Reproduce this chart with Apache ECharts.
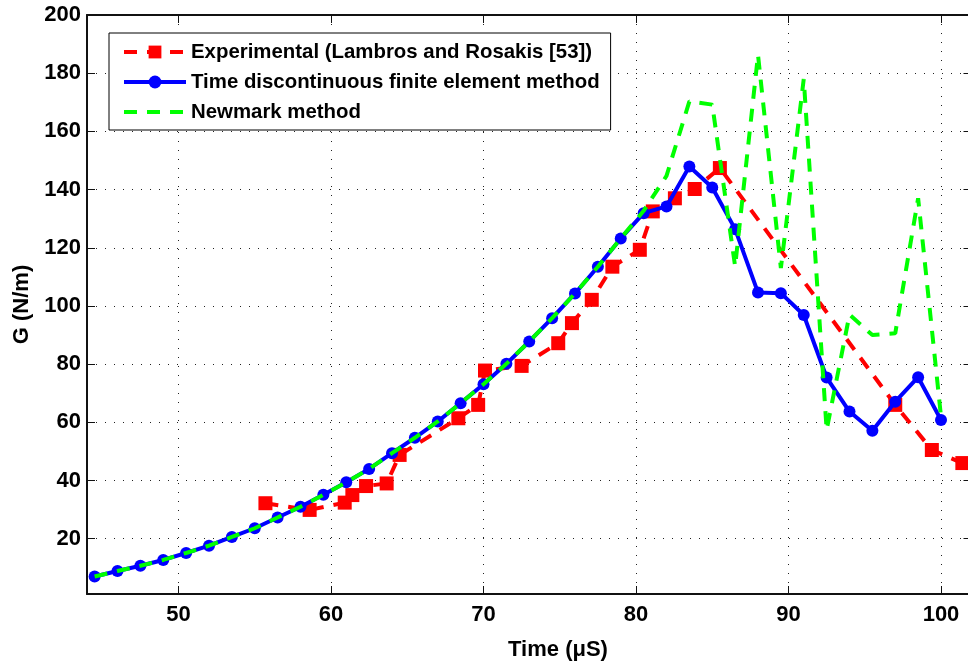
<!DOCTYPE html>
<html lang="en" style="background: #FFFFFF;height: 100%">
	<head>
		<meta charset="utf-8" />
		<title>G vs time</title>
		<script type="text/javascript" src="https://cdn.jsdelivr.net/npm/echarts@6/dist/echarts.min.js"></script>
	</head>
	<style>
		html,body {
			margin: 0;
			padding: 0;
		}
		body {
			overflow: hidden;
		}
	</style>
	<body style="height: 100%;">
		<div id="chart" style="width: 968px;height: 667px"></div>
		<script>
			// experimental points (Lambros and Rosakis)
			var expTime = [55.7, 58.6, 60.9, 61.4, 62.3, 63.65, 64.5, 68.35, 69.65, 70.1, 72.5, 74.9, 75.8, 77.1, 78.45, 80.25, 81.1, 82.55, 83.85, 85.5, 97.0, 99.4, 101.4];
			var expG = [32.2, 29.9, 32.4, 35.0, 38.1, 39.0, 48.8, 61.4, 66.0, 77.8, 79.4, 87.2, 94.1, 102.1, 113.5, 119.3, 132.5, 137.0, 140.2, 147.4, 66.0, 50.5, 46.0];

			// time steps shared by both simulations
			var simTime = [44.5, 46, 47.5, 49, 50.5, 52, 53.5, 55, 56.5, 58, 59.5, 61, 62.5, 64, 65.5, 67, 68.5, 70, 71.5, 73, 74.5, 76, 77.5, 79, 80.5, 82, 83.5, 85, 86.5, 88, 89.5, 91, 92.5, 94, 95.5, 97, 98.5, 100];
			var tdfemG = [7.0, 8.9, 10.7, 12.7, 15.1, 17.6, 20.6, 23.6, 27.3, 31.0, 35.1, 39.4, 44.0, 49.4, 54.7, 60.3, 66.6, 73.1, 80.1, 87.8, 95.8, 104.3, 113.5, 123.2, 131.9, 134.2, 147.9, 140.7, 126.4, 104.6, 104.4, 96.9, 75.4, 63.7, 57.1, 67.1, 75.5, 60.8];
			var newmarkG = [7.0, 8.9, 10.7, 12.7, 15.1, 17.6, 20.6, 23.6, 27.3, 31.0, 35.1, 39.4, 44.0, 49.4, 54.7, 60.3, 66.6, 73.1, 80.1, 87.8, 95.8, 104.3, 113.5, 123.2, 132.7, 144.7, 170.3, 169.2, 113.6, 186.3, 113.0, 178.0, 57.4, 97.0, 90.0, 90.6, 137.0, 62.0];

			var names = ['Experimental (Lambros and Rosakis [53])', 'Time discontinuous finite element method', 'Newmark method'];

			function pairs(xs, ys){
				var out = [];
				for(var i = 0; i < xs.length; i++){
					out.push([xs[i], ys[i]]);
				}
				return out;
			}

			var font = 'Liberation Sans';
			var gridDots = { color: '#222', width: 1, type: [1, 8] };

			function tens(v){
				return (Math.abs(v % 10) < 1e-6) ? String(v) : '';
			}

			var chart = echarts.init(document.getElementById('chart'), null, { renderer: 'canvas' });
			chart.setOption({
				animation: false,
				backgroundColor: '#fff',
				grid: { left: 87, top: 15, width: 884.5, height: 579, containLabel: false, outerBoundsMode: 'none' },
				legend: {
					orient: 'vertical',
					left: 109, top: 33,
					padding: [7, 11, 6, 13],
					itemWidth: 62, itemHeight: 16, itemGap: 6,
					borderColor: '#000', borderWidth: 1, backgroundColor: '#fff',
					lineStyle: { width: 4 },
					textStyle: { fontFamily: font, fontWeight: 'bold', fontSize: 20.4, lineHeight: 24, color: '#000' },
					data: [
						{ name: names[0] },
						{ name: names[1] },
						{ name: names[2], itemStyle: { opacity: 0 } }
					]
				},
				xAxis: [{
					type: 'value', min: 44, max: 102, minInterval: 10, maxInterval: 10,
					axisLine: { lineStyle: { color: '#111', width: 2 } },
					axisTick: { inside: true, length: 8, lineStyle: { color: '#111' } },
					axisLabel: { margin: 10, fontFamily: font, fontWeight: 'bold', fontSize: 22, color: '#000', formatter: tens, showMinLabel: false, showMaxLabel: false },
					splitLine: { show: true, lineStyle: gridDots }
				}, {
					type: 'value', position: 'top', min: 44, max: 102, minInterval: 10, maxInterval: 10,
					axisLine: { lineStyle: { color: '#111', width: 2 } },
					axisTick: { inside: true, length: 8, lineStyle: { color: '#111' } },
					axisLabel: { show: false },
					splitLine: { show: false }
				}],
				yAxis: [{
					type: 'value', min: 1, max: 200, minInterval: 20, maxInterval: 20,
					name: 'G (N/m)', nameLocation: 'middle', nameGap: 52,
					nameTextStyle: { fontFamily: font, fontWeight: 'bold', fontSize: 22, color: '#000' },
					axisLine: { lineStyle: { color: '#111', width: 2 } },
					axisTick: { inside: true, length: 8, lineStyle: { color: '#111' } },
					axisLabel: { margin: 6, fontFamily: font, fontWeight: 'bold', fontSize: 22, color: '#000', formatter: tens, showMinLabel: false },
					splitLine: { show: true, lineStyle: gridDots }
				}, {
					type: 'value', position: 'right', min: 1, max: 200, minInterval: 20, maxInterval: 20,
					axisLine: { lineStyle: { color: '#111', width: 2 } },
					axisTick: { inside: true, length: 8, lineStyle: { color: '#111' } },
					axisLabel: { show: false },
					splitLine: { show: false }
				}],
				graphic: [{
					type: 'text', x: 558, y: 650,
					style: { text: 'Time (\u03bcS)', align: 'center', verticalAlign: 'middle', font: 'bold 22px "Liberation Sans"', fill: '#000' }
				}],
				series: [{
					name: names[0], type: 'line',
					data: pairs(expTime, expG),
					symbol: 'rect', symbolSize: 14,
					itemStyle: { color: '#ff0000' },
					lineStyle: { color: '#ff0000', width: 4, type: [13, 10] },
					z: 2
				}, {
					name: names[1], type: 'line',
					data: pairs(simTime, tdfemG),
					symbol: 'circle', symbolSize: 12,
					itemStyle: { color: '#0000ff' },
					lineStyle: { color: '#0000ff', width: 4 },
					z: 3
				}, {
					name: names[2], type: 'line',
					data: pairs(simTime, newmarkG),
					symbol: 'none',
					itemStyle: { color: '#00ff00' },
					lineStyle: { color: '#00ff00', width: 4, type: [13, 10] },
					z: 4
				}]
			});
		</script>
	</body>
</html>
